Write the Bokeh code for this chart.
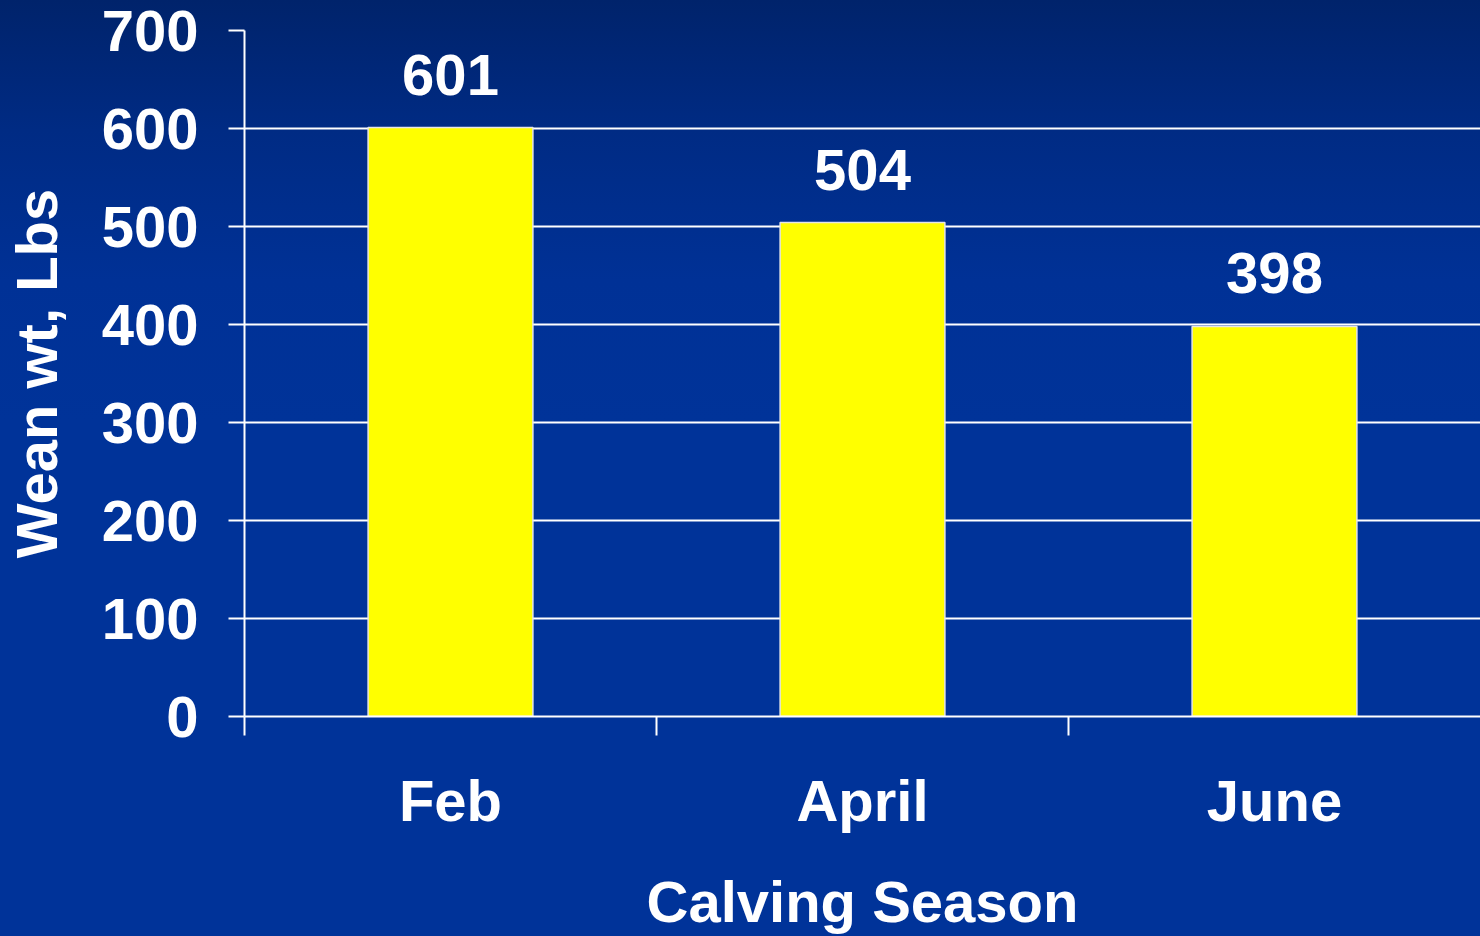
from bokeh.plotting import figure
from bokeh.models import Range1d, FixedTicker, ColumnDataSource
from bokeh.core.properties import value
from bokeh.embed import file_html
from bokeh.resources import INLINE

# ---- data ----
categories = ["Feb", "April", "June"]
wean_wt = [601, 504, 398]
y_ticks = [0, 100, 200, 300, 400, 500, 600, 700]
x_title = "Calving Season"
y_title = "Wean wt, Lbs"

FONT = "Liberation Sans"
FS = "58px"

positions = [i + 0.5 for i in range(len(categories))]
boundaries = [float(i) for i in range(len(categories))]
src = ColumnDataSource(dict(x=positions, top=wean_wt, label=[str(v) for v in wean_wt]))

p = figure(width=1480, height=936,
           x_range=Range1d(0, len(categories)), y_range=Range1d(0, 700),
           output_backend="svg", toolbar_location=None,
           min_border_left=244, min_border_right=0, min_border_top=30, min_border_bottom=0)

p.styles = {"background": "linear-gradient(to bottom, #00236b 0%, #002b84 14%, #003196 30%, #003399 45%, #003399 100%)"}
p.background_fill_alpha = 0
p.border_fill_alpha = 0
p.outline_line_color = None

p.vbar(x="x", top="top", bottom=0, width=0.4, source=src,
       fill_color="#ffff00", line_color="#e6e6e6", line_width=1.5)

p.text(x="x", y="top", text="label", source=src, y_offset=-53,
       text_align="center", text_baseline="alphabetic",
       text_font=value(FONT), text_font_style="bold", text_font_size=FS,
       text_color="white")

# grid
p.xgrid.grid_line_color = None
p.ygrid.ticker = FixedTicker(ticks=y_ticks)
p.ygrid.grid_line_color = "white"
p.ygrid.grid_line_width = 2

# y axis
ya = p.yaxis[0]
ya.ticker = FixedTicker(ticks=y_ticks)
ya.axis_line_color = "white"
ya.axis_line_width = 2
ya.major_tick_line_color = "white"
ya.major_tick_line_width = 2
ya.major_tick_out = 16
ya.major_tick_in = 0
ya.minor_tick_line_color = None
ya.major_label_standoff = 30
ya.major_label_text_font = FONT
ya.major_label_text_font_style = "bold"
ya.major_label_text_font_size = FS
ya.major_label_text_color = "white"
ya.axis_label = y_title
ya.axis_label_text_font = FONT
ya.axis_label_text_font_style = "bold"
ya.axis_label_text_font_size = FS
ya.axis_label_text_color = "white"
ya.axis_label_standoff = 30

# x axis
xa = p.xaxis[0]
xa.ticker = FixedTicker(ticks=positions, minor_ticks=boundaries)
xa.major_label_overrides = {pos: cat for pos, cat in zip(positions, categories)}
xa.axis_line_color = "white"
xa.axis_line_width = 2
xa.major_tick_line_color = None
xa.major_tick_out = 0
xa.major_tick_in = 0
xa.minor_tick_line_color = "white"
xa.minor_tick_line_width = 2
xa.minor_tick_out = 19
xa.minor_tick_in = 0
xa.major_label_standoff = 32
xa.major_label_text_font = FONT
xa.major_label_text_font_style = "bold"
xa.major_label_text_font_size = FS
xa.major_label_text_color = "white"
xa.axis_label = x_title
xa.axis_label_text_font = FONT
xa.axis_label_text_font_style = "bold"
xa.axis_label_text_font_size = FS
xa.axis_label_text_color = "white"
xa.axis_label_standoff = 33

open("out.html", "w").write(file_html(p, INLINE))
